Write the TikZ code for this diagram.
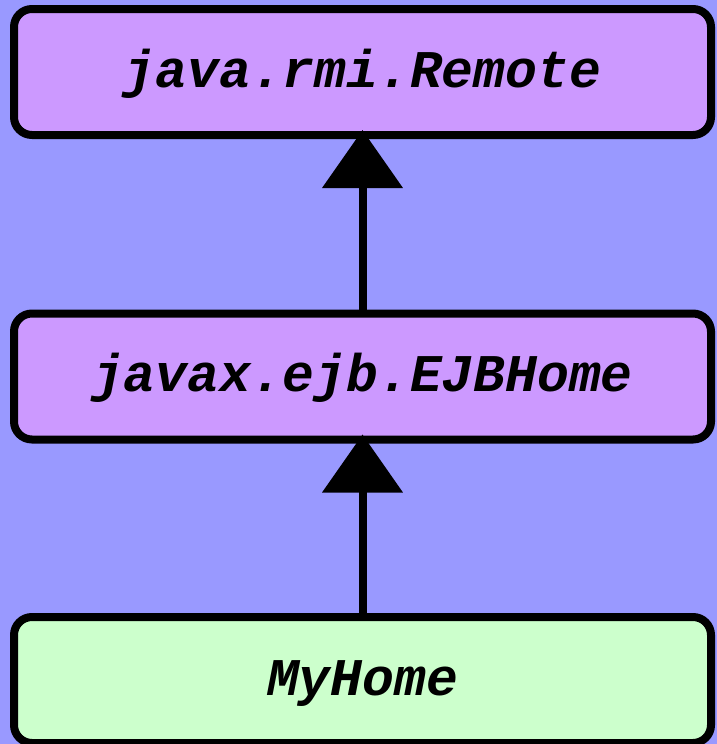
\documentclass[tikz,border=0pt]{standalone}
\usepackage{fontspec}
\setmonofont{Liberation Mono}
\usetikzlibrary{arrows.meta}
\usetikzlibrary{positioning}
\definecolor{bgblue}{HTML}{9999FF}
\definecolor{ifpurple}{HTML}{CC99FF}
\definecolor{clsgreen}{HTML}{CCFFCC}
\tikzstyle{box}=[rectangle,rounded corners=9pt,draw=black,line width=4pt,minimum width=348.5pt,minimum height=63pt,inner sep=0pt,text height=15pt,text depth=0pt,font=\ttfamily\bfseries\itshape\fontsize{26.5}{30}\selectfont]
\tikzstyle{iface}=[box,fill=ifpurple]
\tikzstyle{cls}=[box,fill=clsgreen]
\tikzstyle{arr}=[-{Triangle[width=39.5pt,length=29pt]},shorten >=-4.5pt,draw=black,line width=4pt]

\begin{document}
\begin{tikzpicture}[x=0.5pt,y=-0.5pt]
        \fill[bgblue] (0,0) rectangle (717,744);
        \useasboundingbox (0,0) rectangle (717,744);
        \node[iface] (remote) at (362.5,72) {java.rmi.Remote};
        \node[iface] (ejbhome) at (362.5,376.5) {javax.ejb.EJBHome};
        \node[cls] (myhome) at (362.5,680) {MyHome};
        \draw[arr] (ejbhome) edge (remote);
        \draw[arr] (myhome) edge (ejbhome);
      \end{tikzpicture}
\end{document}
